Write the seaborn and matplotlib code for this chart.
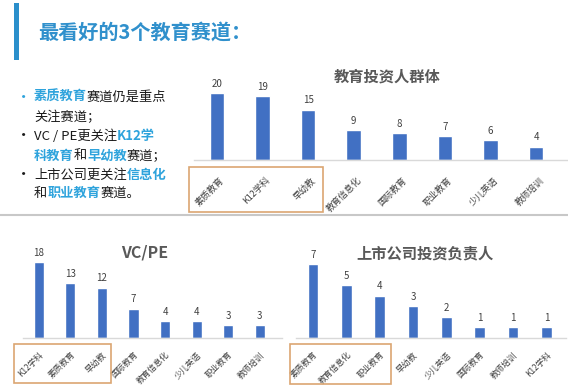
import matplotlib
matplotlib.use("Agg")
import matplotlib.pyplot as plt
import matplotlib.transforms as mtransforms
from matplotlib.patches import Rectangle
from matplotlib.lines import Line2D
import seaborn as sns

# data
investor_cats = ["素质教育", "K12学科", "早幼教", "教育信息化", "国际教育", "职业教育", "少儿英语", "教师培训"]
investor_vals = [20, 19, 15, 9, 8, 7, 6, 4]

vcpe_cats = ["K12学科", "素质教育", "早幼教", "国际教育", "教育信息化", "少儿英语", "职业教育", "教师培训"]
vcpe_vals = [18, 13, 12, 7, 4, 4, 3, 3]

listed_cats = ["素质教育", "教育信息化", "职业教育", "早幼教", "少儿英语", "国际教育", "教师培训", "K12学科"]
listed_vals = [7, 5, 4, 3, 2, 1, 1, 1]

header = "最看好的3个教育赛道："
titles = ["教育投资人群体", "VC/PE", "上市公司投资负责人"]

BLUE_BAR = "#4170c3"
HL = "#2ea3dc"
DARK = "#1a1a1a"
GRAY_TXT = "#404040"
BOX = "#dba672"

# bullet lines: (bullet?, [(text, highlighted)])
bullet_lines = [
    (True, [("素质教育", True), ("赛道仍是重点", False)]),
    (False, [("关注赛道；", False)]),
    (True, [("VC / PE更关注", False), ("K12学", True)]),
    (False, [("科教育", True), ("和", False), ("早幼教", True), ("赛道；", False)]),
    (True, [("上市公司更关注", False), ("信息化", True)]),
    (False, [("和", False), ("职业教育", True), ("赛道。", False)]),
]

sns.set_theme(style="white")
plt.rcParams["font.family"] = ["Noto Sans CJK SC", "DejaVu Sans"]

W, H = 568, 390
fig = plt.figure(figsize=(W / 100, H / 100), dpi=100)
fig.patch.set_facecolor("white")


def fx(x):
    return x / W


def fy(y):
    return 1 - y / H


def draw_panel(rect, cats, vals, ymax, xmax, box_x, box_y, lab_size, pad, dx):
    left, top, width, bottom = rect
    ax = fig.add_axes([fx(left), fy(bottom), fx(width), (bottom - top) / H])
    sns.barplot(x=cats, y=vals, color=BLUE_BAR, width=0.32, saturation=1, ax=ax)
    ax.set_xlim(-0.5, xmax)
    ax.set_ylim(0, ymax)
    ax.bar_label(ax.containers[0], padding=3, fontsize=7, color=GRAY_TXT)
    for s in ["top", "right", "left"]:
        ax.spines[s].set_visible(False)
    ax.spines["bottom"].set_color("#d9d9d9")
    ax.spines["bottom"].set_linewidth(1.0)
    ax.set_yticks([])
    ax.set_xlabel("")
    ax.set_ylabel("")
    ax.set_facecolor("none")
    ax.tick_params(axis="x", length=0, pad=pad)
    offset = mtransforms.ScaledTranslation(dx / 100, 0, fig.dpi_scale_trans)
    for lbl in ax.get_xticklabels():
        lbl.set_rotation(45)
        lbl.set_ha("right")
        lbl.set_va("center")
        lbl.set_rotation_mode("anchor")
        lbl.set_fontsize(lab_size)
        lbl.set_color(GRAY_TXT)
        lbl.set_transform(lbl.get_transform() + offset)
    trans = mtransforms.blended_transform_factory(ax.transData, ax.transAxes)
    ax.add_patch(Rectangle((box_x[0], box_y[0]), box_x[1] - box_x[0], box_y[1] - box_y[0],
                           transform=trans, fill=False, edgecolor=BOX, lw=1.2, clip_on=False))
    return ax


draw_panel((194.2, 70, 373.8, 160), investor_cats, investor_vals, 26.8, 7.7,
           (-0.61, 2.32), (-0.578, -0.078), 6.5, 13.5, 6)
draw_panel((23, 250, 259, 338), vcpe_cats, vcpe_vals, 20.95, 7.7,
           (-0.785, 2.28), (-0.511, -0.068), 6, 11, 3)
draw_panel((296.4, 250, 270, 338), listed_cats, listed_vals, 8.3, 7.6,
           (-0.69, 2.34), (-0.523, -0.068), 6, 11, 3)

# panel titles
fig.text(fx(387), fy(77), titles[0], ha="center", va="center", fontsize=11,
         fontweight="bold", color="#595959")
fig.text(fx(145), fy(253), titles[1], ha="center", va="center", fontsize=11.5,
         fontweight="bold", color="#595959")
fig.text(fx(425), fy(253), titles[2], ha="center", va="center", fontsize=11,
         fontweight="bold", color="#595959")

# header
fig.add_artist(Rectangle((fx(14), fy(60)), fx(5), 57 / H, color="#2b8fcb", lw=0))
fig.text(fx(38), fy(32), header, ha="left", va="center", fontsize=14.5,
         fontweight="bold", color="#3090cc")

# divider
fig.add_artist(Line2D([0, 1], [fy(215), fy(215)], color="#c8c8c8", lw=1.5))

# bullet text
line_y = [97, 117, 136, 156, 175, 193]
for (has_bullet, segs), y in zip(bullet_lines, line_y):
    if has_bullet:
        fig.text(fx(16), fy(y), "•", ha="left", va="center", fontsize=11,
                 color=HL if y == line_y[0] else DARK)
    prev = None
    for txt, hl in segs:
        kw = dict(fontsize=9.5, color=HL if hl else DARK,
                  fontweight="bold" if hl else "normal", va="center", ha="left")
        if prev is None:
            prev = fig.text(fx(34), fy(y), txt, **kw)
        else:
            prev = fig.add_artist(matplotlib.text.Annotation(
                txt, xy=(1, 0.5), xycoords=prev, **kw))

fig.savefig("out.png", dpi=100)
